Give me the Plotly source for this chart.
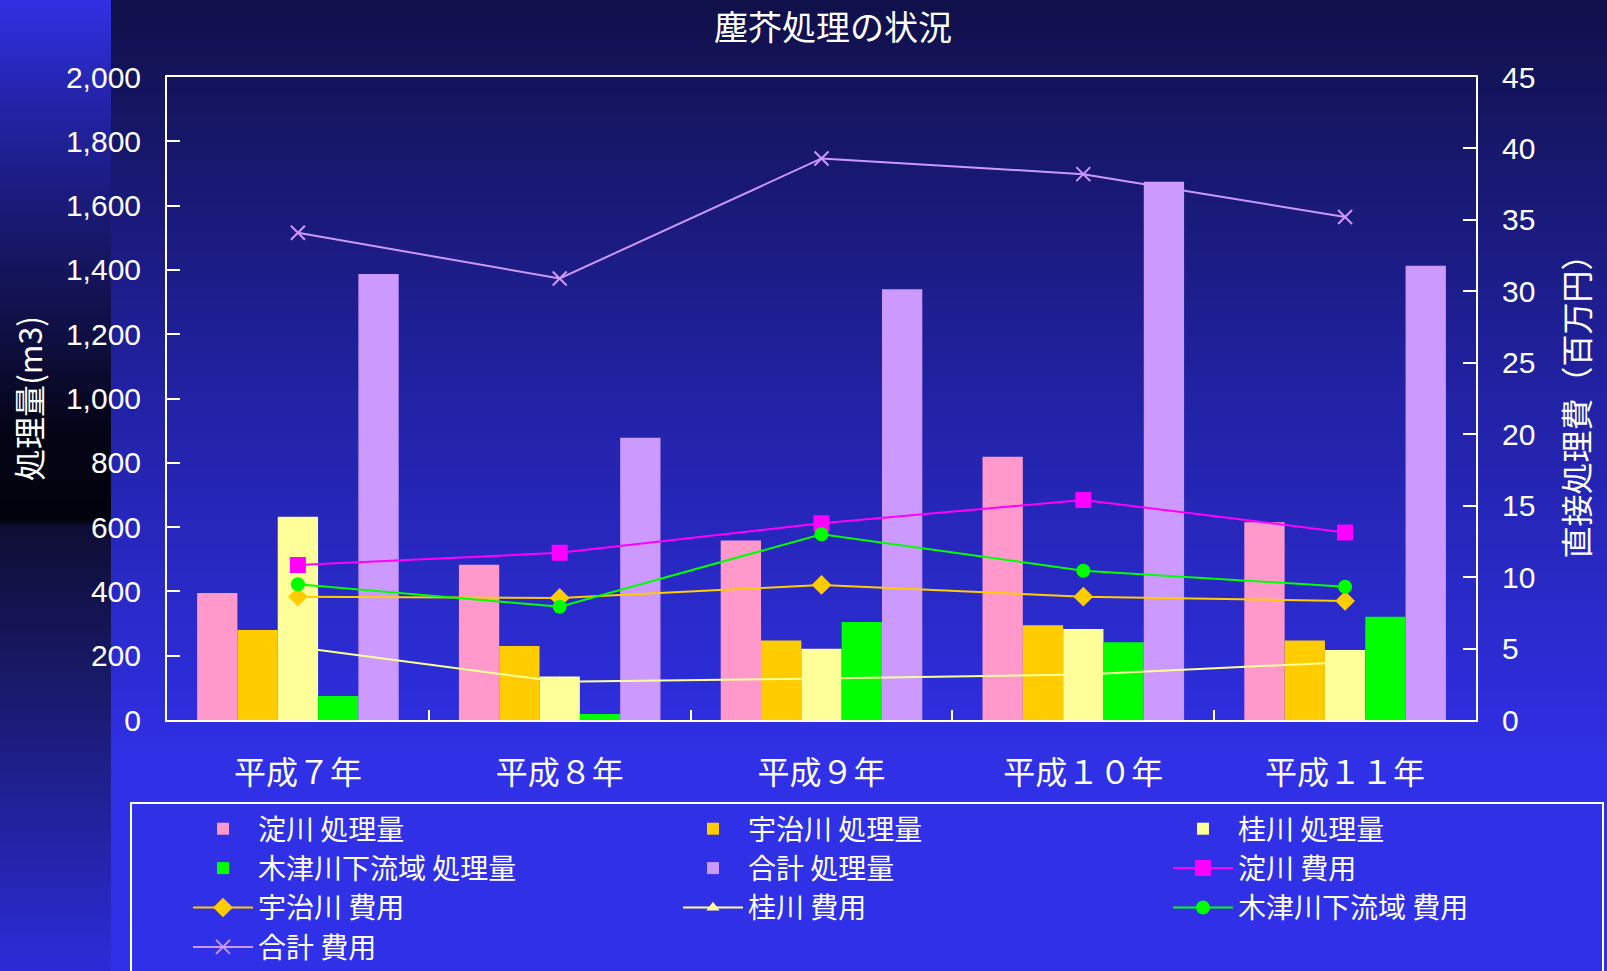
import base64
import struct
import zlib

import plotly.graph_objects as go

# --- data -------------------------------------------------------------
years = ["平成７年", "平成８年", "平成９年", "平成１０年", "平成１１年"]

vol_yodo = [395, 483, 558, 819, 615]
vol_uji = [280, 230, 247, 295, 247]
vol_katsura = [632, 135, 222, 283, 218]
vol_kizu = [75, 19, 305, 242, 321]
vol_total = [1387, 878, 1340, 1674, 1413]

cost_yodo = [10.85, 11.7, 13.77, 15.4, 13.13]
cost_uji = [8.63, 8.54, 9.45, 8.63, 8.33]
cost_katsura = [5.09, 2.67, 2.9, 3.18, 4.05]
cost_kizu = [9.5, 7.93, 13.0, 10.45, 9.33]
cost_total = [34.1, 30.9, 39.3, 38.2, 35.2]

W, H = 1607, 971
L, R, T, B = 167, 131, 77, 251
PW, PH = W - L - R, H - T - B

FONT = "Liberation Sans, Noto Sans CJK JP, sans-serif"
CJK = "Noto Sans CJK JP, sans-serif"


def gradient_uri(stops, height):
    """1 px wide vertical gradient as a PNG data URI (background only)."""
    rows = []
    for y in range(height):
        for (y0, c0), (y1, c1) in zip(stops, stops[1:]):
            if y0 <= y <= y1:
                t = (y - y0) / max(y1 - y0, 1)
                rows.append(tuple(int(round(a + (b - a) * t)) for a, b in zip(c0, c1)))
                break
    raw = b"".join(b"\x00" + bytes(c) for c in rows)

    def chunk(tag, data):
        return struct.pack(">I", len(data)) + tag + data + struct.pack(">I", zlib.crc32(tag + data) & 0xFFFFFFFF)

    png = (b"\x89PNG\r\n\x1a\n"
           + chunk(b"IHDR", struct.pack(">IIBBBBB", 1, height, 8, 2, 0, 0, 0))
           + chunk(b"IDAT", zlib.compress(raw))
           + chunk(b"IEND", b""))
    return "data:image/png;base64," + base64.b64encode(png).decode()


main_bg = gradient_uri([(0, (16, 16, 74)), (80, (20, 20, 92)), (400, (34, 34, 165)),
                        (720, (46, 46, 222)), (760, (48, 48, 230)), (H - 1, (48, 48, 232))], H)
strip_bg = gradient_uri([(0, (48, 48, 226)), (100, (36, 36, 170)), (250, (22, 22, 100)),
                         (350, (14, 14, 60)), (430, (4, 4, 22)), (520, (2, 2, 12)),
                         (526, (14, 14, 52)), (700, (26, 26, 112)), (H - 1, (44, 44, 216))], H)


def px_x(x):
    return (x - L) / PW


def px_y(y):
    return (H - B - y) / PH


fig = go.Figure()

bar_specs = [
    ("淀川 処理量", vol_yodo, "#FF99CC"),
    ("宇治川 処理量", vol_uji, "#FFCC00"),
    ("桂川 処理量", vol_katsura, "#FFFF99"),
    ("木津川下流域 処理量", vol_kizu, "#00FF00"),
    ("合計 処理量", vol_total, "#CC99FF"),
]
for name, vals, col in bar_specs:
    fig.add_trace(go.Bar(x=years, y=vals, name=name, marker=dict(color=col, line=dict(width=0)),
                         yaxis="y"))

line_specs = [
    ("淀川 費用", cost_yodo, "#FF00FF", "square", 14),
    ("宇治川 費用", cost_uji, "#FFCC00", "diamond", 13),
    ("桂川 費用", cost_katsura, "#FFFF99", "triangle-up", 8),
    ("木津川下流域 費用", cost_kizu, "#00FF00", "circle", 12),
    ("合計 費用", cost_total, "#CC99FF", "x-thin-open", 14),
]
for name, vals, col, sym, size in line_specs:
    fig.add_trace(go.Scatter(x=years, y=vals, name=name, mode="lines+markers", yaxis="y2",
                             line=dict(color=col, width=2),
                             marker=dict(symbol=sym, size=size, color=col,
                                         line=dict(color=col, width=2))))

axis_common = dict(showline=True, linecolor="white", linewidth=2, showgrid=False,
                   zeroline=False, ticks="inside", tickcolor="white", tickwidth=2,
                   automargin=False,
                   tickfont=dict(family=FONT, size=30, color="white"))

fig.update_layout(
    width=W, height=H,
    margin=dict(l=L, r=R, t=T, b=B, autoexpand=False),
    paper_bgcolor="#3030E6",
    plot_bgcolor="rgba(0,0,0,0)",
    barmode="group", bargap=0.23, bargroupgap=0,
    title=dict(text="塵芥処理の状況", x=833 / W, xanchor="center", y=1 - 28 / H, yanchor="middle",
               font=dict(family=CJK, size=34, color="white")),
    xaxis=dict(axis_common, mirror=True, tickson="boundaries", ticklen=10,
               ticklabelstandoff=24,
               tickfont=dict(family=CJK, size=32, color="white")),
    yaxis=dict(axis_common, range=[0, 2000], dtick=200, tickformat=",", ticklen=13,
               mirror=True, ticklabelstandoff=18,
               title=dict(text="処理量(m3)", standoff=14,
                          font=dict(family=CJK, size=32, color="white"))),
    yaxis2=dict(axis_common, range=[0, 45], dtick=5, ticklen=13, side="right",
                overlaying="y", ticklabelstandoff=18,
                title=dict(text="直接処理費（百万円）", standoff=32,
                           font=dict(family=CJK, size=32, color="white"))),
    legend=dict(orientation="h", x=px_x(130), y=px_y(802), xanchor="left", yanchor="top",
                bgcolor="rgba(0,0,0,0)", bordercolor="white", borderwidth=2,
                font=dict(family=CJK, size=28, color="white"),
                entrywidth=359, entrywidthmode="pixels", itemwidth=60, indentation=56,
                traceorder="normal"),
    images=[
        dict(source=main_bg, xref="paper", yref="paper", x=px_x(0), y=px_y(0),
             sizex=W / PW, sizey=H / PH, sizing="stretch", xanchor="left", yanchor="top",
             layer="below"),
        dict(source=strip_bg, xref="paper", yref="paper", x=px_x(0), y=px_y(0),
             sizex=111 / PW, sizey=H / PH, sizing="stretch", xanchor="left", yanchor="top",
             layer="below"),
    ],
)

fig.write_html("out.html", config={"displayModeBar": False},
               post_script="document.body.style.margin = '0';")
